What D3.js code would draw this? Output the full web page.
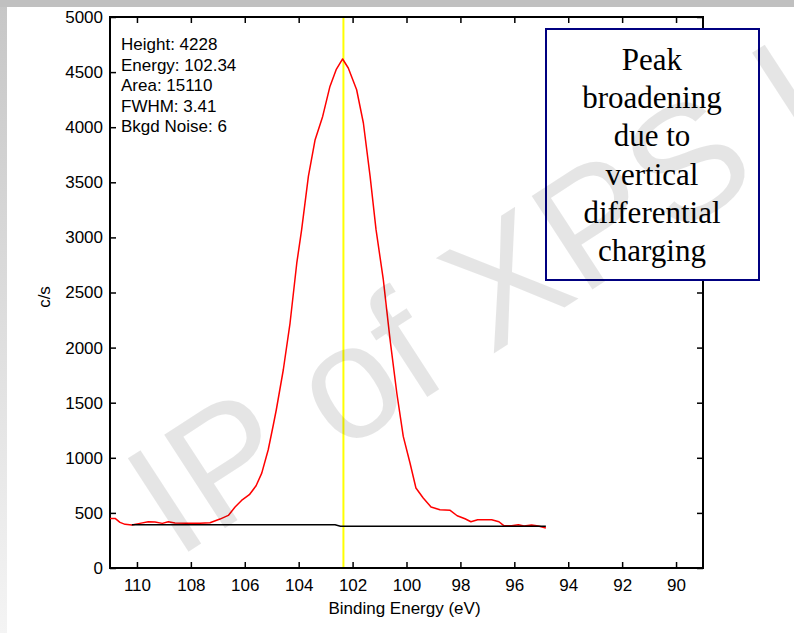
<!DOCTYPE html>
<html>
<head>
<meta charset="utf-8">
<script src="https://cdn.jsdelivr.net/npm/d3@7"></script>
<style>
  body { margin: 0; background: #fff; }
  svg { display: block; }
</style>
</head>
<body>
<script>
// spectrum: binding energy (eV) vs counts (c/s)
const energy = [111.0, 110.81, 110.63, 110.44, 110.19, 109.89, 109.58, 109.33, 109.06, 108.84,
  108.59, 108.16, 107.66, 107.29, 106.92, 106.61, 106.36, 106.12, 105.83, 105.58,
  105.37, 105.13, 104.94, 104.83, 104.57, 104.32, 104.07, 103.89, 103.64, 103.39,
  103.11, 102.84, 102.61, 102.37, 102.16, 101.85, 101.60, 101.35, 101.13, 100.86,
  100.61, 100.36, 100.12, 99.87, 99.65, 99.38, 99.09, 98.76, 98.38, 98.12,
  97.83, 97.61, 97.36, 96.84, 96.57, 96.39, 96.10, 95.85, 95.64, 95.36, 95.11, 94.83];
const counts = [450, 450, 414, 396, 390, 405, 420, 417, 405, 420,
  408, 405, 405, 411, 444, 477, 553, 613, 665, 746,
  861, 1073, 1300, 1436, 1799, 2223, 2768, 3070, 3553, 3887,
  4098, 4370, 4522, 4619, 4537, 4340, 4038, 3553, 3070, 2616,
  2072, 1588, 1194, 953, 726, 635, 553, 529, 523, 474,
  447, 420, 438, 438, 420, 384, 384, 393, 381, 390, 381, 363];

// background (step under the peak)
const bkgdEnergy = [110.19, 102.65, 102.45, 94.83];
const bkgdCounts = [392, 392, 378, 378];

const peakEnergy = 102.34;

const xTicks = [110, 108, 106, 104, 102, 100, 98, 96, 94, 92, 90];
const yTicks = [0, 500, 1000, 1500, 2000, 2500, 3000, 3500, 4000, 4500, 5000];

const peakInfo = ["Height: 4228", "Energy: 102.34", "Area: 15110", "FWHM: 3.41", "Bkgd Noise: 6"];
const noteLines = ["Peak", "broadening", "due to", "vertical", "differential", "charging"];

const W = 794, H = 633;
const plot = {left: 110, top: 17, right: 703, bottom: 568};

const svg = d3.select("body").append("svg")
  .attr("width", W).attr("height", H)
  .style("font-family", "'Liberation Sans', Arial, sans-serif");

// slide frame: grey band on top, fading strip at left
const grad = svg.append("defs").append("linearGradient")
  .attr("id", "edge").attr("x1", 0).attr("y1", 0).attr("x2", 0).attr("y2", 1);
grad.append("stop").attr("offset", 0).attr("stop-color", "#c6c6c6");
grad.append("stop").attr("offset", 1).attr("stop-color", "#f4f4f4");

svg.append("rect").attr("width", W).attr("height", H).attr("fill", "#fff");
svg.append("rect").attr("x", 0).attr("y", 0).attr("width", 7).attr("height", H).attr("fill", "url(#edge)");
svg.append("rect").attr("x", 0).attr("y", 0).attr("width", W).attr("height", 7).attr("fill", "#c0c0c0");

const x = d3.scaleLinear().domain([111, 89]).range([plot.left, plot.right]);
const y = d3.scaleLinear().domain([0, 5000]).range([plot.bottom, plot.top]);

const tickLen = 6;

// axes, ticks pointing inwards on all four sides
function axisGroup(axis, tx, ty){
  return svg.append("g")
    .attr("transform", `translate(${tx},${ty})`)
    .call(axis)
    .call(g => g.select(".domain").remove())
    .call(g => g.selectAll("line").attr("stroke", "#000").attr("stroke-width", 1.5))
    .call(g => g.selectAll("text").attr("fill", "#000").style("font-size", "17px"));
}

axisGroup(d3.axisBottom(x).tickValues(xTicks).tickSize(-tickLen).tickPadding(11).tickFormat(d3.format("d")), 0, plot.bottom);
axisGroup(d3.axisTop(x).tickValues(xTicks).tickSize(-tickLen).tickFormat(""), 0, plot.top);
axisGroup(d3.axisLeft(y).tickValues(yTicks).tickSize(-tickLen).tickPadding(7).tickFormat(d3.format("d")), plot.left, 0);
axisGroup(d3.axisRight(y).tickValues(yTicks).tickSize(-tickLen).tickFormat(""), plot.right, 0);

svg.append("rect")
  .attr("x", plot.left).attr("y", plot.top)
  .attr("width", plot.right - plot.left).attr("height", plot.bottom - plot.top)
  .attr("fill", "none").attr("stroke", "#000").attr("stroke-width", 2);

// axis titles
svg.append("text")
  .attr("x", (plot.left + plot.right) / 2 - 2).attr("y", 614)
  .attr("text-anchor", "middle").style("font-size", "17px")
  .text("Binding Energy (eV)");

svg.append("text")
  .attr("transform", "translate(50,297) rotate(-90)")
  .attr("text-anchor", "middle").style("font-size", "17px")
  .text("c/s");

// data lines
const line = d3.line().x(d => x(d[0])).y(d => y(d[1]));

svg.append("line")
  .attr("x1", x(peakEnergy)).attr("x2", x(peakEnergy))
  .attr("y1", plot.top + 1).attr("y2", plot.bottom - 1)
  .attr("stroke", "#ffff00").attr("stroke-width", 2);

svg.append("path")
  .datum(d3.zip(energy, counts))
  .attr("d", line)
  .attr("fill", "none").attr("stroke", "#ff0000").attr("stroke-width", 1.5)
  .attr("stroke-linejoin", "round");

svg.append("path")
  .datum(d3.zip(bkgdEnergy, bkgdCounts))
  .attr("d", line)
  .attr("fill", "none").attr("stroke", "#000").attr("stroke-width", 1.5);

// peak readout, top left of the plot
svg.append("g").selectAll("text")
  .data(peakInfo)
  .join("text")
  .attr("x", 121)
  .attr("y", (d, i) => 50 + i * 20.5)
  .style("font-size", "17px")
  .text(d => d);

// note box
svg.append("rect")
  .attr("x", 546).attr("y", 29).attr("width", 213).attr("height", 251)
  .attr("fill", "#fff").attr("stroke", "#000080").attr("stroke-width", 2);

svg.append("g").selectAll("text")
  .data(noteLines)
  .join("text")
  .attr("x", 652)
  .attr("y", (d, i) => 70 + i * 38.2)
  .attr("text-anchor", "middle")
  .style("font-family", "'Liberation Serif', 'Times New Roman', serif")
  .style("font-size", "31px")
  .text(d => d);

// watermark over everything
svg.append("text")
  .attr("transform", "translate(176,560) rotate(-33)")
  .style("font-size", "162px")
  .attr("fill", "#000").attr("fill-opacity", 0.1)
  .text("IP of XPS International");
</script>
</body>
</html>
